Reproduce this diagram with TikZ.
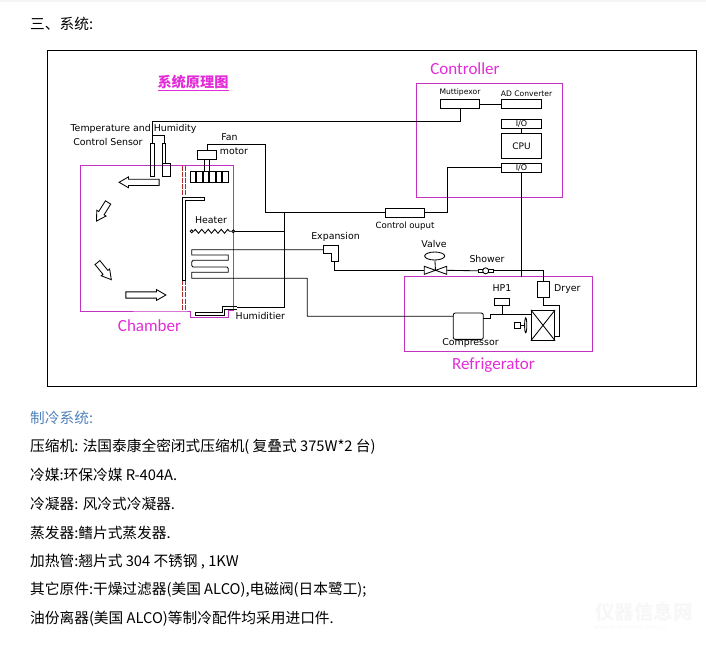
\documentclass[tikz,border=0pt]{standalone}
\usepackage{fontspec}
\setmainfont{DejaVu Sans}
\newfontfamily\cjk{Noto Sans CJK SC}
\newfontfamily\narrowfont{Carlito}
\usetikzlibrary{shapes.geometric, shapes.arrows, decorations.pathmorphing, positioning, math, calc}

\definecolor{chamberPink}{HTML}{C232C2}
\definecolor{labelPink}{HTML}{E22CD8}
\definecolor{titleBlue}{HTML}{4F81BD}
\definecolor{doorRed}{HTML}{B02A2A}

\begin{document}
\begin{tikzpicture}[x=1pt,y=-1pt]
	\tikzmath{
		\x        = 30;    %left edge of the text lines
		\y        = 418;   %first line under the frame
		\lineDist = 28.7;  %distance between text lines
		\cellW    = 5.57;  %width of one fan cell
		\ioW      = 40.4;  %width of the controller boxes
	}
	\tikzstyle{Node} = [
		inner sep=0pt,
		text centered,
		draw=black,
		line width=0.85pt
	]
	\tikzstyle{EmptyNode} = [rectangle, inner sep=0pt, font=\fontsize{9.4}{9}\selectfont]
	\tikzstyle{SmallNode} = [EmptyNode, font=\fontsize{7.6}{8}\selectfont]
	\tikzstyle{ZoneNode}  = [rectangle, inner sep=0pt, text=labelPink, font=\narrowfont\fontsize{17}{18}\selectfont]
	\tikzstyle{BodyNode}  = [rectangle, inner sep=0pt, anchor=west, font=\cjk\fontsize{14.7}{15}\selectfont]
	\tikzstyle{IoNode}    = [Node, minimum width=\ioW pt, minimum height=9pt, font=\fontsize{8}{8}\selectfont]
	\tikzstyle{CellNode}  = [Node, minimum width=\cellW pt, minimum height=11pt]
	\tikzstyle{FlowNode}  = [Node, single arrow, inner sep=2.7pt, minimum width=10pt, minimum height=22pt,
		single arrow head extend=2.3pt, single arrow tip angle=60]
	\tikzstyle{Wire}      = [line width=0.85pt, draw=black]
	\tikzstyle{Zone}      = [line width=0.9pt, draw=chamberPink]
	\tikzstyle{Door}      = [line width=0.9pt, draw=doorRed, dash pattern=on 5pt off 1.2pt]

	\useasboundingbox (0,0) rectangle (706,646);
	\fill[black!4] (0,0) rectangle (706,1.5);

	%%%%%%%%%%%%%%%%%%%%%%%%%%===---HEADER AND FRAME---===%%%%%%%%%%%%%%%%%%%%%%%%%%
	\node (headLine) [BodyNode] at (\x,24) {三、系统:};
	\node (frame) [Node, minimum width=649pt, minimum height=336pt] at (371.5,218) {};
	\node (diagramTitle) [rectangle, inner sep=0pt, text=labelPink, font=\cjk\bfseries\fontsize{14.2}{15}\selectfont] at (193,83) {\underline{系统原理图}};

	%%%%%%%%%%%%%%%%%%%%%%%%%%===---ZONES---===%%%%%%%%%%%%%%%%%%%%%%%%%%
	\draw[Zone] (185,311) -- (80.5,311) -- (80.5,165.5) -- (233,165.5) -- (233,310.5) -- (228,310.5)
		-- (228,317.5) -- (190,317.5) -- (190,311) -- cycle;
	\node (controllerZone) [Node, draw=chamberPink, line width=0.9pt, minimum width=146pt, minimum height=114pt] at (489.3,140.3) {};
	\node (refrigeratorZone) [Node, draw=chamberPink, line width=0.9pt, minimum width=188pt, minimum height=74.6pt] at (498.3,314) {};
	\node (chamberLabel) [ZoneNode] at (149.5,326) {Chamber};
	\node (controllerLabel) [ZoneNode] at (465,69) {Controller};
	\node (refrigeratorLabel) [ZoneNode] at (493.5,365) {Refrigerator};

	%%%%%%%%%%%%%%%%%%%%%%%%%%===---CONTROLLER---===%%%%%%%%%%%%%%%%%%%%%%%%%%
	\node (adBox)  [IoNode] at (521.5,104) {};
	\node (muxBox) [IoNode, minimum width=39pt, left = 21pt of adBox] {};
	\node (ioUp)   [IoNode, below = 10.3pt of adBox] {I/O};
	\node (cpuBox) [IoNode, minimum height=25pt, font=\fontsize{9}{9}\selectfont, below = 4pt of ioUp] {CPU};
	\node (ioDown) [IoNode, below = 4pt of cpuBox] {I/O};
	\node (muxLabel) [SmallNode, above = 2.5pt of muxBox] {Muttipexor};
	\node (adLabel)  [SmallNode, above = 2.5pt of adBox, xshift=5pt] {AD Converter};
	\draw[Wire] (muxBox) -- (adBox);
	\draw[Wire] (ioUp) -- (cpuBox);

	\node (ctrlOutBox) [Node, minimum width=39.4pt, minimum height=8.8pt] at (405,212.6) {};
	\node (ctrlOutLabel) [EmptyNode, below = 4pt of ctrlOutBox, font=\fontsize{8.6}{9}\selectfont] {Control ouput};
	\coordinate (ctrlTurn) at (447.7,212.6);
	\draw[Wire] (ioDown.west) -| (ctrlTurn) -- (ctrlOutBox.east);
	\draw[Wire] (ioDown.south) -- (521.5,276.7);

	%%%%%%%%%%%%%%%%%%%%%%%%%%===---SENSOR---===%%%%%%%%%%%%%%%%%%%%%%%%%%
	\node (sensorTube) [Node, minimum width=4.2pt, minimum height=33.5pt] at (152.3,160) {};
	\node (sensorThin) [Node, minimum width=3.2pt, minimum height=20pt] at (164,153) {};
	\node (sensorBox)  [Node, minimum width=8pt, minimum height=13.6pt] at (166.4,170) {};
	\node (sensorLabelA) [EmptyNode] at (133.5,128.5) {Temperature and Humidity};
	\node (sensorLabelB) [EmptyNode] at (108,141.5) {Control Sensor};
	\coordinate (sensorTap) at (152.3,135);
	\draw[Wire] (muxBox.south) |- (152.3,121) -- (sensorTube.north);
	\draw[Wire] (sensorTap) -| (sensorThin.north);

	%%%%%%%%%%%%%%%%%%%%%%%%%%===---FAN---===%%%%%%%%%%%%%%%%%%%%%%%%%%
	\node (fan1) [CellNode] at (193.1,176.8) {};
	\node (fan2) [CellNode, right = 0mm of fan1] {};
	\node (fan3) [CellNode, right = 0mm of fan2] {};
	\node (fan4) [CellNode, right = 0mm of fan3] {};
	\node (fan5) [CellNode, right = 0mm of fan4] {};
	\node (fan6) [CellNode, right = 0mm of fan5] {};
	\node (motorBox) [Node, minimum width=18.6pt, minimum height=9.3pt] at (207,154.6) {};
	\node (fanLabelA) [EmptyNode] at (229.5,137.5) {Fan};
	\node (fanLabelB) [EmptyNode] at (234,151) {motor};
	\draw[Wire] (204.7,159.3) -- (204.7,171.3);
	\draw[Wire] (209.7,159.3) -- (209.7,171.3);
	\coordinate (fanTurn) at (265.3,212.6);
	\coordinate (motorTurn) at (207,144.7);
	\draw[Wire] (ctrlOutBox.west) -- (fanTurn) |- (motorTurn) -- (motorBox.north);

	%%%%%%%%%%%%%%%%%%%%%%%%%%===---AIR FLOW---===%%%%%%%%%%%%%%%%%%%%%%%%%%
	\node (flowTop)   [FlowNode, minimum height=40pt, rotate=180] at (141.8,182.3) {};
	\node (flowLeft)  [FlowNode, rotate=238] at (103.7,209.5) {};
	\node (flowDown)  [FlowNode, rotate=-51] at (102.7,269) {};
	\node (flowFloor) [FlowNode, minimum height=40pt] at (143.2,295) {};

	%%%%%%%%%%%%%%%%%%%%%%%%%%===---DOOR AND PLATE---===%%%%%%%%%%%%%%%%%%%%%%%%%%
	\draw[Door] (182.5,165.5) -- (182.5,197.7);
	\draw[Door] (185.7,165.5) -- (185.7,197.7);
	\draw[Door] (182.5,280) -- (182.5,311);
	\draw[Door] (185.7,280) -- (185.7,311);
	\draw[Wire] (182.5,280) -- (182.5,197.7) -- (204.3,197.7) -- (204.3,200.7) -- (185.7,200.7) -- (185.7,280) -- cycle;

	%%%%%%%%%%%%%%%%%%%%%%%%%%===---HEATER AND HUMIDIFIER---===%%%%%%%%%%%%%%%%%%%%%%%%%%
	\node (heaterLabel) [EmptyNode] at (211,219.7) {Heater};
	\node (heaterLeft)  [Node, circle, minimum size=3pt] at (191.7,231.3) {};
	\node (heaterRight) [Node, circle, minimum size=3pt] at (233.3,231.3) {};
	\coordinate (powerRail) at (284.3,231.3);
	\draw[Wire, decorate, decoration={zigzag, segment length=6.5pt, amplitude=2pt}] (heaterLeft) -- (heaterRight);
	\draw[Wire] (heaterRight) -- (powerRail);
	\draw[Wire] (284.3,212.6) -- (284.3,307) -- (236.7,307);
	\draw[Wire] (236.7,306.3) -- (222.3,306.3) -- (222.3,312) -- (195.7,312) -- (195.7,315.3)
		-- (224.3,315.3) -- (224.3,309.3) -- (236.7,309.3);
	\node (humidLabel) [EmptyNode, anchor=west] at (235.5,315.5) {Humiditier};

	%%%%%%%%%%%%%%%%%%%%%%%%%%===---REFRIGERANT LOOP---===%%%%%%%%%%%%%%%%%%%%%%%%%%
	\node (compressor) [Node, rectangle, rounded corners=2pt, minimum width=30pt, minimum height=26.4pt] at (468.3,326.2) {};
	\node (compLabel) [EmptyNode] at (470.5,342.5) {Compressor};
	\coordinate (expIn) at (323.3,249.7);
	\coordinate (expOut) at (334.3,261);
	\draw[Wire] (expIn) -- (191.7,249.7) -- (191.7,255) -- (228.3,255) -- (228.3,260.3) -- (193,260.3)
		-- (191.7,262) -- (191.7,265.5) -- (193,267) -- (227,267) -- (228.3,268.5) -- (228.3,272.3)
		-- (191.7,272.3) -- (191.7,278.3) -- (307.3,278.3) -- (307.3,316.3) -- (453.3,316.3);
	\draw[Wire] (323.3,245.7) -- (338.3,245.7) -- (338.3,261) -- (331,261) -- (331,253) -- (323.3,253) -- cycle;
	\node (expLabel) [EmptyNode] at (335.5,236.5) {Expansion};

	\node (valveOval) [Node, ellipse, minimum width=20pt, minimum height=8pt] at (434.7,256) {};
	\node (valveLabel) [EmptyNode] at (434,243.5) {Valve};
	\coordinate (valveMid) at (435.5,270.3);
	\draw[Wire] (expOut) |- (424.3,270.3);
	\draw[Wire] (424.3,266.3) -- (424.3,274.3) -- (446.7,266.3) -- (446.7,274.3) -- cycle;
	\draw[Wire] (valveOval) -- (valveMid);

	\node (showerBar)  [Node, minimum width=15.4pt, minimum height=3.6pt] at (486,270.8) {};
	\node (showerBall) [Node, circle, minimum size=6pt, fill=white] at (485.7,270.8) {};
	\node (showerLabel) [EmptyNode] at (487,258.5) {Shower};
	\draw[Wire] (446.7,270.3) -- (showerBar.west);
	\node (dryerBox) [Node, minimum width=12.4pt, minimum height=16.3pt] at (543.5,289.2) {};
	\node (dryerLabel) [EmptyNode, anchor=west] at (554,289) {Dryer};
	\draw[Wire] (showerBar.east) -| (dryerBox.north);

	\node (condenser) [Node, minimum width=23.4pt, minimum height=30pt] at (543,325.3) {};
	\draw[Wire] (condenser.north west) -- (condenser.south east);
	\draw[Wire] (condenser.north east) -- (condenser.south west);
	\draw[Wire] (dryerBox.south) -- (543.5,305.7) -- (559.3,305.7) -- (559.3,336) -- (554.7,336);

	\node (hpBox) [Node, minimum width=15.4pt, minimum height=7.4pt] at (502,302) {};
	\node (hpLabel) [EmptyNode] at (502,288.5) {HP1};
	\coordinate (hpTap) at (502,314.3);
	\draw[Wire] (hpBox) -- (hpTap);
	\draw[Wire] (531.3,314.3) -- (490.3,314.3) -- (490.3,318) -- (483.3,318);

	\node (coolBox) [Node, minimum width=6.4pt, minimum height=6pt] at (517.5,325.3) {};
	\node (coolBlade) [Node, ellipse, minimum width=2.2pt, minimum height=15pt] at (525.7,325.3) {};
	\draw[Wire] (coolBox) -- (coolBlade);

	%%%%%%%%%%%%%%%%%%%%%%%%%%===---TEXT LINES---===%%%%%%%%%%%%%%%%%%%%%%%%%%
	\node (text0) [BodyNode, text=titleBlue] at (\x,\y) {制冷系统:};
	\node (text1) [BodyNode] at (\x,\y + \lineDist) {压缩机: 法国泰康全密闭式压缩机( 复叠式 375W*2 台)};
	\node (text2) [BodyNode] at (\x,\y + 2*\lineDist) {冷媒:环保冷媒 R-404A.};
	\node (text3) [BodyNode] at (\x,\y + 3*\lineDist) {冷凝器: 风冷式冷凝器.};
	\node (text4) [BodyNode] at (\x,\y + 4*\lineDist) {蒸发器:鳍片式蒸发器.};
	\node (text5) [BodyNode] at (\x,\y + 5*\lineDist) {加热管:翘片式 304 不锈钢 , 1KW};
	\node (text6) [BodyNode] at (\x,\y + 6*\lineDist) {其它原件:干燥过滤器(美国 ALCO),电磁阀(日本鹭工);};
	\node (text7) [BodyNode] at (\x,\y + 7*\lineDist) {油份离器(美国 ALCO)等制冷配件均采用进口件.};

	\node (markMain) [BodyNode, text=black!3, font=\cjk\bfseries\fontsize{19.5}{20}\selectfont] at (595,612) {仪器信息网};
	\node (markSub)  [BodyNode, text=black!3, font=\fontsize{6}{6}\selectfont] at (594,627) {www.instrument.com.cn};
\end{tikzpicture}
\end{document}
